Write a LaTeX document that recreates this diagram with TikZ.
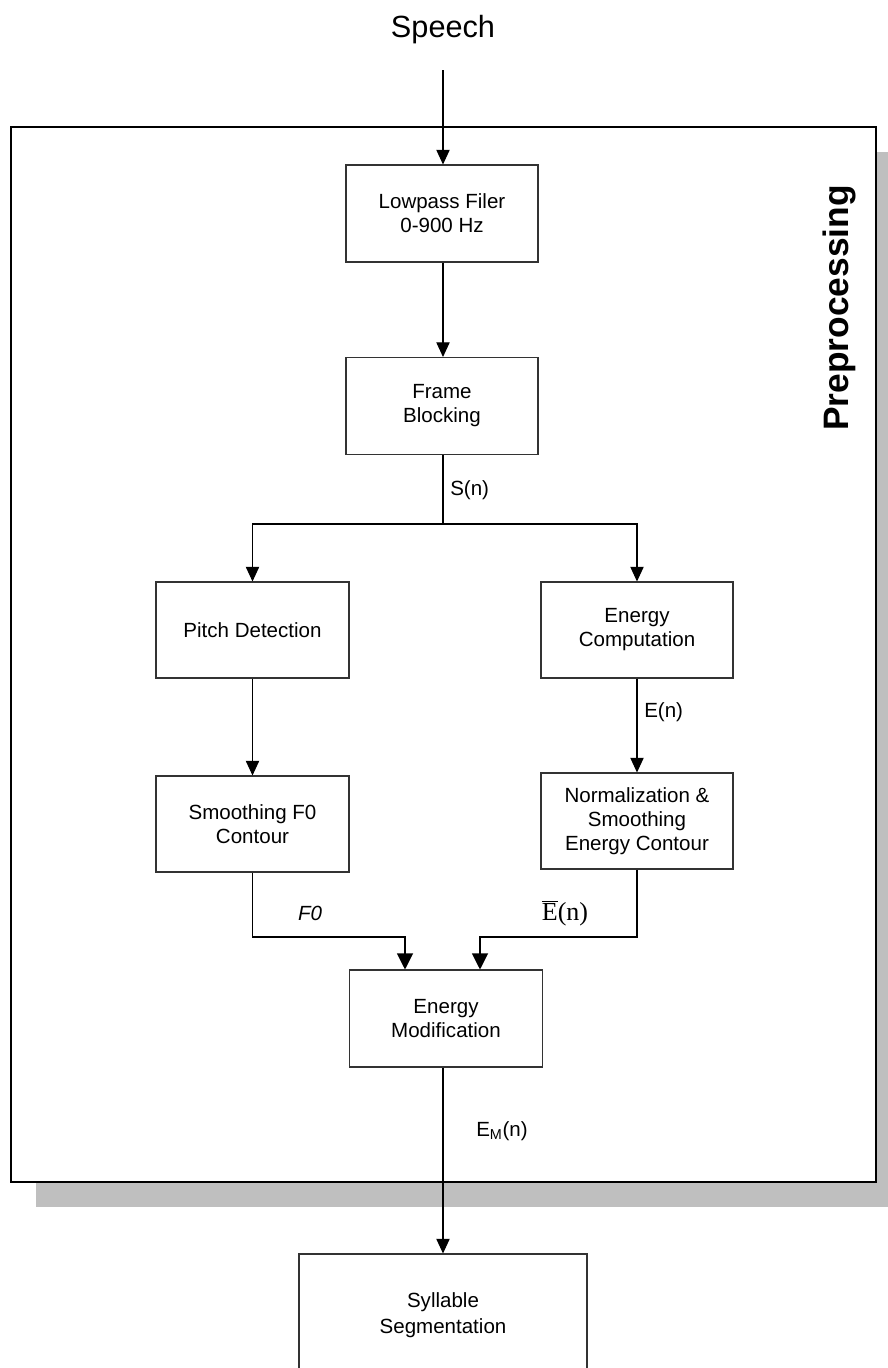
\documentclass[tikz,border=0pt]{standalone}
\usepackage{fontspec}
\setmainfont{Liberation Sans}
\newfontfamily\serifE{Liberation Serif}
\usetikzlibrary{arrows.meta,calc}
\begin{document}
\begin{tikzpicture}[x=0.75pt,y=-0.75pt,
  blockbox/.style={draw=black!80,line width=0.8pt,minimum width=192*0.75pt,minimum height=97*0.75pt,align=center,inner sep=0pt,font=\fontsize{15.4}{18}\selectfont},
  flow/.style={line width=0.8pt,-{Triangle[length=11pt,width=10pt]}},
  bigflow/.style={line width=0.8pt,-{Triangle[length=12pt,width=12pt]}},
  plain/.style={line width=0.8pt},
  lab/.style={font=\fontsize{15.4}{18}\selectfont,inner sep=0pt}]
\useasboundingbox (0,0) rectangle (888,1368);
\begin{scope}
\clip (0,0) rectangle (888,1368);
% shadow and frame
\fill[black!25] (36,152) rectangle (901,1207);
\draw[fill=white,line width=1pt] (11,127) rectangle (876,1182);
\node[rotate=90,font=\fontsize{26.5}{30}\bfseries\selectfont,inner sep=0pt] (pre) at (839,308) {Preprocessing};

\node[font=\fontsize{23}{27}\selectfont,inner sep=0pt] (speech) at (443,30) {Speech};
\coordinate (sin) at (443,70);

\node[blockbox] (lp) at (442,213.5) {Lowpass Filer\\0-900 Hz};
\node[blockbox] (fb) at (442,406) {Frame\\Blocking};
\node[blockbox,minimum width=193*0.75pt,minimum height=96*0.75pt] (pd) at (252.5,630) {Pitch Detection};
\node[blockbox,minimum height=96*0.75pt] (ec) at (637,630) {Energy\\Computation};
\node[blockbox,minimum width=193*0.75pt,minimum height=96*0.75pt] (sm) at (252.5,824) {Smoothing F0\\Contour};
\node[blockbox,minimum height=96*0.75pt] (ns) at (637,821) {Normalization \&\\Smoothing\\Energy Contour};
\node[blockbox,minimum width=193*0.75pt] (em) at (446,1018.5) {Energy\\Modification};
\node[blockbox,minimum width=288*0.75pt,minimum height=122*0.75pt,font=\fontsize{15.4}{19.5}\selectfont] (ss) at (443,1315) {Syllable\\Segmentation};

\coordinate (split) at (443,524);
\coordinate (jl) at (405,937);
\coordinate (jr) at (480,937);

\draw[flow] (sin) -- (speech |- lp.north);
\draw[flow] (lp.south -| sin) -- (fb.north -| sin);
\draw[plain] (fb.south -| split) -- (split);
\draw[flow] (split) -| (pd.north);
\draw[flow] (split) -| (ec.north);
\draw[flow] (pd.south) -- (sm.north);
\draw[flow] (ec.south) -- (ns.north);
\draw[bigflow] (sm.south) |- (jl) -- (jl |- em.north);
\draw[bigflow] (ns.south) |- (jr) -- (jr |- em.north);
\draw[flow] (em.south -| split) -- (ss.north -| split);

\node[lab,anchor=west] (sn) at (450,490) {S(n)};
\node[lab,anchor=west] (en) at (644,712) {E(n)};
\node[lab,font=\fontsize{15.4}{18}\itshape\selectfont] (f0) at (310,913) {F0};
\node[inner sep=0pt,font=\fontsize{19.5}{22}\serifE] (eb) at (565,913) {$\overline{\mbox{E}}$(n)};
\node[lab,anchor=west] (emn) at (476,1131) {E\textsubscript{M}(n)};
\end{scope}
\end{tikzpicture}
\end{document}
